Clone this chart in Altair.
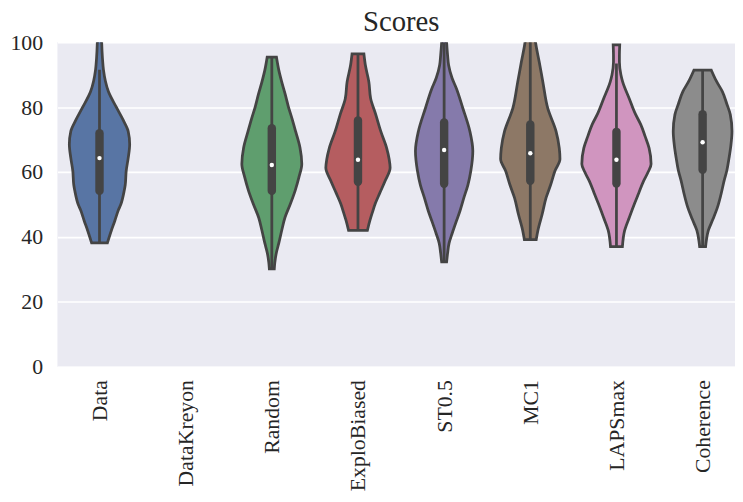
import json
import altair as alt
import pandas as pd

categories = ["Data", "DataKreyon", "Random", "ExploBiased", "ST0.5", "MC1", "LAPSmax", "Coherence"]
colors = ["#5875A4", "#CC8963", "#5F9E6E", "#B55D60", "#857AAB", "#8D7866", "#D095BF", "#8C8C8C"]

# violin outlines: (score, half-width of density in px-like units)
violin_data = [(104, 2), (100, 2.2), (95, 3), (91.5, 4), (88, 6), (84.8, 9), (80, 17), (76, 24),
               (72.6, 29), (68.6, 30.5), (64.3, 29), (60.4, 27), (56, 26), (54.3, 25), (50, 21.5),
               (48.2, 19), (45, 15.5), (42, 12), (38.2, 8)]
violin_datakreyon = []
violin_random = [(95.4, 4.7), (91.5, 7), (87.8, 10), (84, 13.5), (80.2, 16.7), (76.4, 20.5),
                 (72.6, 24), (67.5, 28.5), (62.5, 30.3), (58.5, 27.5), (54.3, 23.6), (50, 18.5),
                 (46, 13.3), (42, 10), (38, 7), (35, 4.5), (32, 3), (30.2, 2.5)]
violin_explobiased = [(96.4, 6), (92.9, 7.5), (87.8, 11), (82.7, 12.8), (77.7, 18), (72.6, 23),
                      (67.4, 29), (64, 31.5), (61.3, 32.5), (57.3, 27.5), (53.5, 22), (50.3, 17.5),
                      (47.5, 14.5), (45, 12), (42, 9.5)]
violin_st05 = [(104, 2), (100, 2.5), (96, 3.5), (93, 4.5), (89, 8), (85.7, 12.5), (79.6, 19),
               (72.6, 26), (66.5, 29), (60.4, 27), (56, 24), (52.1, 20), (48, 16), (45, 12.5),
               (41, 8), (38.1, 5), (35, 3.5), (32.3, 2.5)]
violin_mc1 = [(104, 4), (100, 5.3), (94, 9), (87.8, 12.7), (79.6, 17.7), (72.6, 26), (67.4, 29.3),
              (64, 30), (60.4, 25), (56, 20.5), (52.1, 16), (47, 12), (42, 7.7), (39.2, 6)]
violin_lapsmax = [(99.2, 3.3), (96, 3), (93.9, 3), (90, 4.5), (87.8, 6.3), (82.6, 13), (78, 19),
                  (74.7, 24.5), (71, 29), (67.4, 33), (62.5, 35), (60, 32), (57.3, 27.5),
                  (53.5, 22.5), (50.3, 18.3), (46, 13), (42, 8.3), (37, 6)]
violin_coherence = [(91.4, 8.8), (88, 14), (84.8, 20), (81, 24.5), (77.7, 28), (72.6, 29.7),
                    (68, 28.5), (64.3, 26.7), (60.5, 24.5), (57.3, 21.7), (53, 18.5), (49.1, 15),
                    (45.5, 10.5), (42, 5.8), (39, 3.8), (37, 3)]

# box statistics per category (None for the empty category)
q1 = [54.2, None, 54.2, 57.0, 56.4, 57.3, 56.5, 60.7]
q3 = [72.0, None, 73.5, 75.9, 75.3, 74.7, 72.4, 77.8]
medians = [64.3, None, 62.2, 63.8, 66.8, 65.8, 63.8, 69.2]
whisker_lo = [38.2, None, 30.2, 42.0, 32.3, 39.2, 37.0, 37.0]
whisker_hi = [91.5, None, 95.4, 96.4, 100.0, 100.0, 93.5, 91.4]

y_ticks = [0, 20, 40, 60, 80, 100]

profiles = [violin_data, violin_datakreyon, violin_random, violin_explobiased,
            violin_st05, violin_mc1, violin_lapsmax, violin_coherence]

rows = []
for i, (cat, prof) in enumerate(zip(categories, profiles)):
    for v, w in prof:
        rows.append({"cat": cat, "pos": i, "v": v, "w": w})
vdf = pd.DataFrame(rows)

srows = []
for i, cat in enumerate(categories):
    if medians[i] is None:
        continue
    srows.append({"cat": cat, "pos": i, "q1": q1[i], "q3": q3[i], "med": medians[i],
                  "lo": whisker_lo[i], "hi": whisker_hi[i]})
sdf = pd.DataFrame(srows)

PX = 87.1
xscale = alt.Scale(domain=[-0.488, 7.376], nice=False, zero=False)
yscale = alt.Scale(domain=[0, 100], nice=False, zero=False)
font = "Liberation Serif"
dark = "#444444"

xaxis = alt.Axis(values=list(range(len(categories))),
                 labelExpr=json.dumps(categories) + "[datum.value]",
                 labelAngle=-90, grid=False, ticks=False, domain=False,
                 labelFont=font, labelFontSize=22, labelColor="#262626",
                 labelPadding=13, title=None)
yaxis = alt.Axis(values=y_ticks, grid=True, gridColor="white", gridWidth=1.6,
                 ticks=False, domain=False, labelFont=font, labelFontSize=22,
                 labelColor="#262626", labelPadding=15, title=None)

violins = alt.Chart(vdf).transform_calculate(
    xl="datum.pos - datum.w / %f" % PX,
    xr="datum.pos + datum.w / %f" % PX,
).mark_area(orient="horizontal", interpolate="monotone", stroke=dark,
            strokeWidth=2.8, clip=True, opacity=1, fillOpacity=1).encode(
    y=alt.Y("v:Q", scale=yscale, axis=yaxis),
    x=alt.X("xl:Q", scale=xscale, axis=xaxis),
    x2="xr:Q",
    color=alt.Color("cat:N", scale=alt.Scale(domain=categories, range=colors), legend=None),
    detail="cat:N",
)

base = alt.Chart(sdf)
whiskers = base.mark_rule(color=dark, strokeWidth=2.8, clip=True).encode(
    x=alt.X("pos:Q", scale=xscale), y=alt.Y("lo:Q", scale=yscale), y2="hi:Q")
boxes = base.mark_rule(color=dark, strokeWidth=8.5, strokeCap="round").encode(
    x=alt.X("pos:Q", scale=xscale), y=alt.Y("q1:Q", scale=yscale), y2="q3:Q")
meds = base.mark_circle(color="white", size=20, opacity=1).encode(
    x=alt.X("pos:Q", scale=xscale), y=alt.Y("med:Q", scale=yscale))

chart = alt.layer(violins, whiskers, boxes, meds).properties(
    width=685, height=328,
    title=alt.TitleParams("Scores", font=font, fontSize=29, fontWeight="normal",
                          color="#262626", anchor="middle", baseline="alphabetic",
                          offset=-29, dx=5),
    autosize=alt.AutoSizeParams(type="none"),
    padding={"left": 50, "top": 32, "right": 0, "bottom": 126},
).configure_view(fill="#EAEAF2", stroke=None)

chart.save("out.html", embed_options={"renderer": "svg", "actions": False})
